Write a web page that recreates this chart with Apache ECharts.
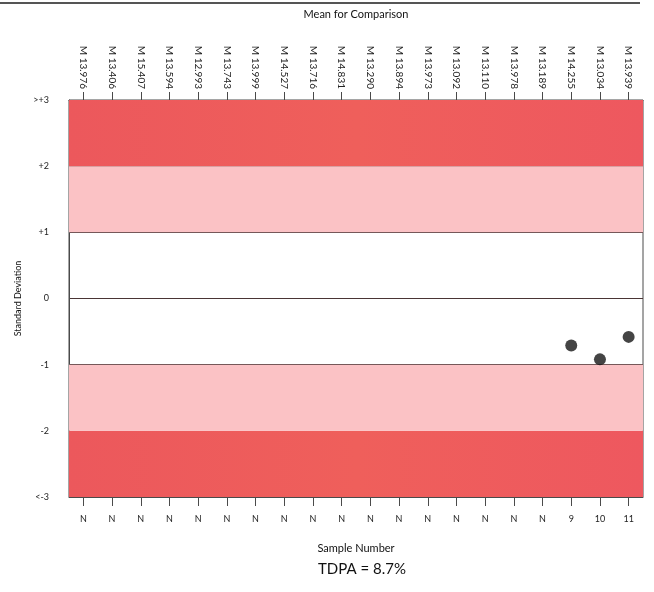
<!DOCTYPE html>
<html>
<head>
<meta charset="utf-8">
<script src="https://cdn.jsdelivr.net/npm/echarts@6/dist/echarts.min.js"></script>
<style>
    html, body { margin: 0; padding: 0; background: #fff; }
    #main { width: 654px; height: 592px; }
</style>
</head>
<body>
<div id="main"></div>
<script>
// categories (bottom axis) and comparison means (top axis)
var sampleLabels = ['N', 'N', 'N', 'N', 'N', 'N', 'N', 'N', 'N', 'N',
    'N', 'N', 'N', 'N', 'N', 'N', 'N', '9', '10', '11'];
var meanLabels = ['M 13.976', 'M 13.406', 'M 15.407', 'M 13.594', 'M 12.993',
    'M 13.743', 'M 13.999', 'M 14.527', 'M 13.716', 'M 14.831',
    'M 13.290', 'M 13.894', 'M 13.973', 'M 13.092', 'M 13.110',
    'M 13.978', 'M 13.189', 'M 14.255', 'M 13.034', 'M 13.939'];
// standard deviation of each sample (null = no result)
var sdValues = [null, null, null, null, null, null, null, null, null, null,
    null, null, null, null, null, null, null, -0.71, -0.92, -0.58];
var yTickLabels = { '-3': '<-3', '-2': '-2', '-1': '-1', '0': '0', '1': '+1', '2': '+2', '3': '>+3' };
var outerBands = [[2, 3], [-3, -2]];
var innerBands = [[1, 2], [-2, -1]];

var font = 'Lato, "Open Sans", sans-serif';
var darkFill = {
    type: 'linear', x: 0, y: 0, x2: 1, y2: 0,
    colorStops: [
        { offset: 0, color: '#ec585c' },
        { offset: 0.5, color: '#ef5f5b' },
        { offset: 1, color: '#ee585f' }
    ]
};

function toAreas(list, fill) {
    return list.map(function (b) {
        return [{ yAxis: b[1], itemStyle: { color: fill } }, { yAxis: b[0] }];
    });
}

var myChart = echarts.init(document.getElementById('main'));
myChart.setOption({
    animation: false,
    textStyle: { fontFamily: font },
    grid: {
        left: 69, right: 11, top: 100, bottom: 95,
        show: true, borderColor: '#4a4a4a', borderWidth: 1
    },
    graphic: [
        {
            type: 'line',
            shape: { x1: 0, y1: 3, x2: 640, y2: 3 },
            style: { stroke: '#555', lineWidth: 2 }
        },
        {
            type: 'text',
            left: 318, top: 562,
            style: { text: 'TDPA = 8.7%', fontSize: 15, fill: '#111', fontFamily: font }
        }
    ],
    xAxis: [
        {
            type: 'category',
            position: 'bottom',
            data: sampleLabels,
            boundaryGap: true,
            name: 'Sample Number',
            nameLocation: 'middle',
            nameGap: 46,
            nameTextStyle: { fontSize: 11, color: '#111' },
            axisLine: { show: true, onZero: false, lineStyle: { color: '#4a4a4a' } },
            axisTick: { show: true, alignWithLabel: true, length: 9, lineStyle: { color: '#4a4a4a' } },
            axisLabel: { fontSize: 9, color: '#222', margin: 18, interval: 0 },
            splitLine: { show: false }
        },
        {
            type: 'category',
            position: 'top',
            data: meanLabels,
            boundaryGap: true,
            name: 'Mean for Comparison',
            nameLocation: 'middle',
            nameGap: 80,
            nameTextStyle: { fontSize: 11, color: '#111' },
            axisLine: { show: true, onZero: false, lineStyle: { color: '#4a4a4a' } },
            axisTick: { show: true, alignWithLabel: true, length: 8, lineStyle: { color: '#4a4a4a' } },
            axisLabel: { fontSize: 10, color: '#222', rotate: 90, margin: 11, interval: 0 },
            splitLine: { show: false }
        }
    ],
    yAxis: {
        type: 'value',
        min: -3,
        max: 3,
        interval: 1,
        name: 'Standard Deviation',
        nameLocation: 'middle',
        nameGap: 46,
        nameRotate: 90,
        nameTextStyle: { fontSize: 9, color: '#111' },
        axisLine: { show: true, lineStyle: { color: '#4a4a4a' } },
        axisTick: { show: false },
        axisLabel: {
            fontSize: 9, color: '#222', margin: 20,
            formatter: function (v) { return yTickLabels[String(v)]; }
        },
        splitLine: { show: true, lineStyle: { color: '#4a3535', width: 1 } }
    },
    series: [
        {
            type: 'scatter',
            xAxisIndex: 0,
            data: sdValues,
            symbolSize: 12,
            itemStyle: { color: '#151515' },
            z: 5,
            markArea: {
                silent: true,
                z: 1,
                data: toAreas(outerBands, darkFill).concat(toAreas(innerBands, '#fbc2c5'))
            }
        }
    ]
});
</script>
</body>
</html>
